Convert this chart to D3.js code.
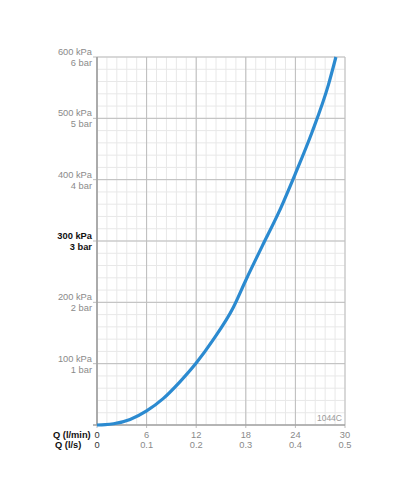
<!DOCTYPE html>
<html>
<head>
<meta charset="utf-8">
<script src="https://d3js.org/d3.v7.min.js"></script>
<style>
  body { margin: 0; background: #fff; }
  text { font-family: "Liberation Sans", Arial, sans-serif; }
</style>
</head>
<body>
<div id="chart"></div>
<script>
// flow rate (l/min) and pressure drop (kPa)
var flow = [0, 1, 2, 4, 6, 8, 10, 12, 14, 16.5, 18, 20, 22, 24, 26, 28, 28.9];
var pressure = [0, 0.5, 2, 9, 23, 43, 70, 101, 138, 192, 236, 292, 347, 410, 477, 555, 600];

var xTicks = [0, 6, 12, 18, 24, 30];
var xTicksLs = ["0", "0.1", "0.2", "0.3", "0.4", "0.5"];
var yTicks = [100, 200, 300, 400, 500, 600];
var yTicksBar = ["1 bar", "2 bar", "3 bar", "4 bar", "5 bar", "6 bar"];

var width = 400, height = 500;
var margin = { top: 57, right: 55, bottom: 75, left: 97 };

var svg = d3.select("#chart").append("svg")
    .attr("width", width)
    .attr("height", height);

svg.append("rect").attr("width", width).attr("height", height).attr("fill", "#fff");

var x = d3.scaleLinear().domain([0, 30]).range([margin.left, width - margin.right]);
var y = d3.scaleLinear().domain([0, 600]).range([height - margin.bottom, margin.top]);

// minor grid
svg.append("g")
    .selectAll("line")
    .data(d3.range(0, 30.01, 1.2))
    .enter().append("line")
    .attr("x1", d => x(d)).attr("x2", d => x(d))
    .attr("y1", y(0)).attr("y2", y(600))
    .attr("stroke", "#e8e8e8").attr("stroke-width", 1);

svg.append("g")
    .selectAll("line")
    .data(d3.range(0, 600.1, 20))
    .enter().append("line")
    .attr("x1", x(0)).attr("x2", x(30))
    .attr("y1", d => y(d)).attr("y2", d => y(d))
    .attr("stroke", "#e8e8e8").attr("stroke-width", 1);

// major grid
svg.append("g")
    .selectAll("line")
    .data(xTicks)
    .enter().append("line")
    .attr("x1", d => x(d)).attr("x2", d => x(d))
    .attr("y1", y(0) + 3).attr("y2", y(600))
    .attr("stroke", "#bdbdbd").attr("stroke-width", 1);

svg.append("g")
    .selectAll("line")
    .data(yTicks)
    .enter().append("line")
    .attr("x1", x(0) - 4).attr("x2", x(30))
    .attr("y1", d => y(d)).attr("y2", d => y(d))
    .attr("stroke", "#bdbdbd").attr("stroke-width", 1);

// axes lines
svg.append("line")
    .attr("x1", x(0)).attr("x2", x(0))
    .attr("y1", y(0)).attr("y2", y(600))
    .attr("stroke", "#a0a0a0").attr("stroke-width", 1.6);
svg.append("line")
    .attr("x1", x(0) - 4).attr("x2", x(30))
    .attr("y1", y(0)).attr("y2", y(0))
    .attr("stroke", "#a0a0a0").attr("stroke-width", 1.6);

// y labels
var yl = svg.append("g").selectAll("g")
    .data(yTicks)
    .enter().append("g");
yl.append("text")
    .attr("x", x(0) - 5)
    .attr("y", d => y(d) - 2)
    .attr("text-anchor", "end")
    .attr("font-size", 9.3)
    .attr("font-weight", d => d === 300 ? "bold" : "normal")
    .attr("fill", d => d === 300 ? "#111" : "#8a8a8a")
    .text(d => d + " kPa");
yl.append("text")
    .attr("x", x(0) - 5)
    .attr("y", d => y(d) + 9)
    .attr("text-anchor", "end")
    .attr("font-size", 9.3)
    .attr("font-weight", d => d === 300 ? "bold" : "normal")
    .attr("fill", d => d === 300 ? "#111" : "#8a8a8a")
    .text((d, i) => yTicksBar[i]);

// x labels
svg.append("g").selectAll("text")
    .data(xTicks)
    .enter().append("text")
    .attr("x", d => x(d))
    .attr("y", y(0) + 13)
    .attr("text-anchor", "middle")
    .attr("font-size", 9.3)
    .attr("fill", d => d === 0 ? "#333" : "#8a8a8a")
    .text(d => d);

svg.append("g").selectAll("text")
    .data(xTicksLs)
    .enter().append("text")
    .attr("x", (d, i) => x(xTicks[i]))
    .attr("y", y(0) + 23)
    .attr("text-anchor", "middle")
    .attr("font-size", 9.3)
    .attr("fill", (d, i) => i === 0 ? "#333" : "#8a8a8a")
    .text(d => d);

svg.append("text")
    .attr("x", 53).attr("y", y(0) + 13)
    .attr("font-size", 9.3).attr("font-weight", "bold").attr("fill", "#111")
    .text("Q (l/min)");
svg.append("text")
    .attr("x", 55).attr("y", y(0) + 23)
    .attr("font-size", 9.3).attr("font-weight", "bold").attr("fill", "#111")
    .text("Q (l/s)");

svg.append("text")
    .attr("x", x(30) - 3).attr("y", y(0) - 4)
    .attr("text-anchor", "end")
    .attr("font-size", 8.5).attr("fill", "#999")
    .text("1044C");

// curve
var line = d3.line()
    .x((d, i) => x(flow[i]))
    .y(d => y(d))
    .curve(d3.curveMonotoneX);

svg.append("path")
    .datum(pressure)
    .attr("d", line)
    .attr("fill", "none")
    .attr("stroke", "#2b8ad0")
    .attr("stroke-width", 3.2)
    .attr("stroke-linecap", "butt");
</script>
</body>
</html>
